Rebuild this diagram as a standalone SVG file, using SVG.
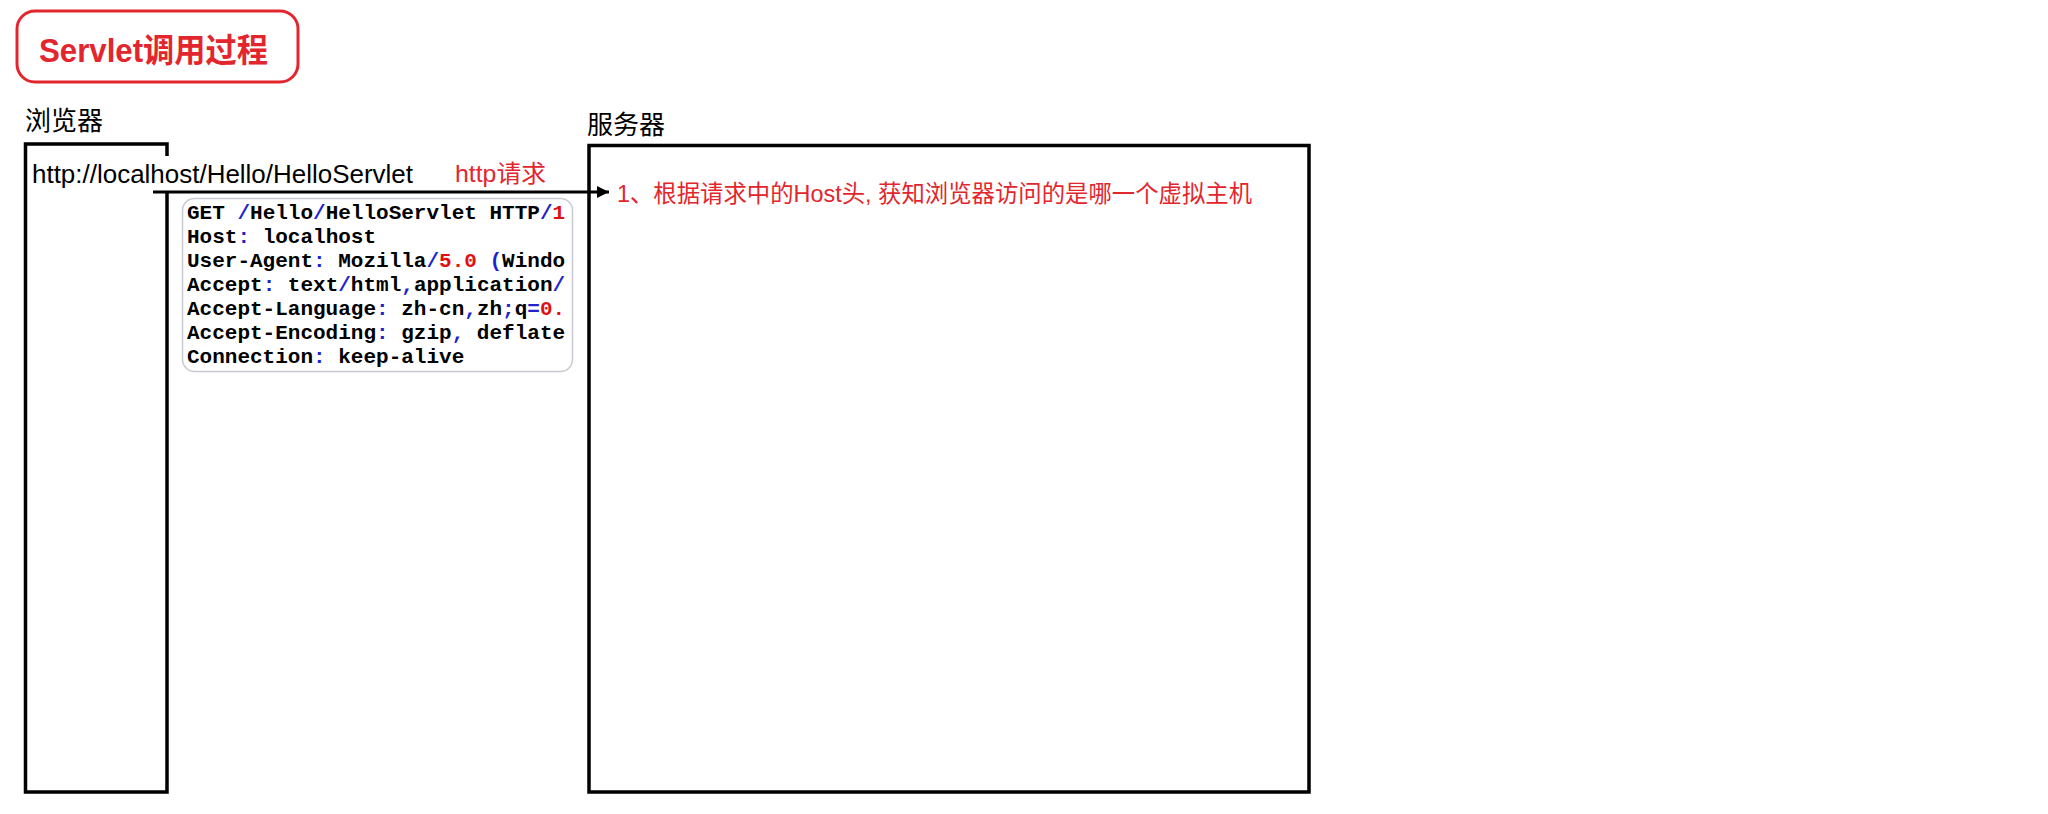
<svg xmlns="http://www.w3.org/2000/svg" width="2048" height="814" viewBox="0 0 2048 814">
<style>
.box{fill:none;stroke:#000;stroke-width:3.5}
.lbl{font-family:"Liberation Sans","Noto Sans CJK SC",sans-serif;fill:#000}
.red{fill:#e3262d}
.mono{font-family:"Liberation Mono","Courier New",monospace;font-weight:bold;font-size:21px;fill:#000}
.b{fill:#2222cc}
.n{fill:#e01010}
</style>
<defs>
<marker id="arr" viewBox="0 0 10 10" refX="10" refY="5" markerWidth="5" markerHeight="4" markerUnits="strokeWidth" orient="auto">
<path d="M0,0 L10,5 L0,10 z" fill="#000"/>
</marker>
<clipPath id="reqclip"><rect x="183" y="199" width="382" height="172" rx="12"/></clipPath>
</defs>
<rect width="2048" height="814" fill="#fff"/>

<g id="title">
<rect x="17" y="11" width="281" height="71" rx="18" fill="#fff" stroke="#e3262d" stroke-width="3"/>
<text x="39" y="62" class="lbl red" font-size="33" font-weight="bold" textLength="229" lengthAdjust="spacingAndGlyphs">Servlet调用过程</text>
</g>

<g id="browser">
<text x="25" y="130" class="lbl" font-size="26">浏览器</text>
<rect x="25.5" y="144" width="141.5" height="648" class="box"/>
<rect x="30" y="156" width="386" height="35" fill="#fff"/>
<text x="32" y="183" class="lbl" font-size="25" textLength="381" lengthAdjust="spacingAndGlyphs">http://localhost/Hello/HelloServlet</text>
</g>

<g id="server">
<text x="587" y="134" class="lbl" font-size="26">服务器</text>
<rect x="589" y="145.5" width="720" height="646.5" class="box"/>
<text x="617" y="202" class="lbl red" font-size="24" textLength="635" lengthAdjust="spacingAndGlyphs">1、根据请求中的Host头, 获知浏览器访问的是哪一个虚拟主机</text>
</g>

<g id="request">
<rect x="182.5" y="198.5" width="390" height="173" rx="12" fill="#fff" stroke="#c9c9d2" stroke-width="1.5"/>
<g clip-path="url(#reqclip)">
<text x="187" y="219" class="mono">GET <tspan class="b">/</tspan>Hello<tspan class="b">/</tspan>HelloServlet HTTP<tspan class="b">/</tspan><tspan class="n">1.1</tspan></text>
<text x="187" y="243" class="mono">Host<tspan class="b">:</tspan> localhost</text>
<text x="187" y="267" class="mono">User-Agent<tspan class="b">:</tspan> Mozilla<tspan class="b">/</tspan><tspan class="n">5.0</tspan> <tspan class="b">(</tspan>Windows</text>
<text x="187" y="291" class="mono">Accept<tspan class="b">:</tspan> text<tspan class="b">/</tspan>html<tspan class="b">,</tspan>application<tspan class="b">/</tspan>xhtml</text>
<text x="187" y="315" class="mono">Accept-Language<tspan class="b">:</tspan> zh-cn<tspan class="b">,</tspan>zh<tspan class="b">;</tspan>q<tspan class="b">=</tspan><tspan class="n">0.5</tspan></text>
<text x="187" y="339" class="mono">Accept-Encoding<tspan class="b">:</tspan> gzip<tspan class="b">,</tspan> deflate</text>
<text x="187" y="363" class="mono">Connection<tspan class="b">:</tspan> keep-alive</text>
</g>
</g>

<g id="connectors">
<line x1="153" y1="192" x2="609" y2="192" stroke="#000" stroke-width="3" marker-end="url(#arr)"/>
<text x="455" y="182" class="lbl red" font-size="24" textLength="91" lengthAdjust="spacingAndGlyphs">http请求</text>
</g>
</svg>
